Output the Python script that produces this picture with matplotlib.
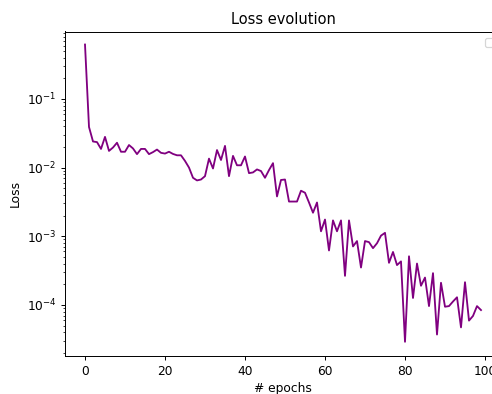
import numpy as np
import matplotlib
matplotlib.use('Agg')
import matplotlib.pyplot as plt

# loss per epoch
epochs = np.arange(100)
loss = [
    0.62, 0.039, 0.024, 0.0235, 0.0187, 0.028, 0.0175, 0.0196, 0.023, 0.017,
    0.017, 0.0213, 0.019, 0.0157, 0.0187, 0.0187, 0.0157, 0.0168, 0.0183, 0.0164,
    0.016, 0.017, 0.0158, 0.0151, 0.0151, 0.0125, 0.010, 0.0071, 0.0065, 0.0067,
    0.0075, 0.0135, 0.0097, 0.018, 0.0129, 0.0207, 0.0075, 0.0148, 0.0108, 0.0108,
    0.0145, 0.0083, 0.0085, 0.0094, 0.0089, 0.0071, 0.0092, 0.0116, 0.0038, 0.0066,
    0.0067, 0.0032, 0.0032, 0.0032, 0.0046, 0.0043, 0.0031, 0.0022, 0.0031, 0.00118,
    0.00175, 0.00062, 0.0017, 0.00118, 0.0017, 0.000265, 0.0017, 0.00071, 0.00085, 0.00035,
    0.00085, 0.00082, 0.00067, 0.00079, 0.00102, 0.00112, 0.00041, 0.00059, 0.00038, 0.00043,
    2.9e-5, 0.00051, 0.000126, 0.0004, 0.00019, 0.00025, 9.6e-5, 0.00029, 3.7e-5, 0.00021,
    9.4e-5, 9.6e-5, 0.000112, 0.000129, 4.7e-5, 0.000214, 5.9e-5, 6.9e-5, 9.6e-5, 8.4e-5,
]

dpi = 88
fig = plt.figure(figsize=(492 / dpi, 394 / dpi), dpi=dpi)
# axes run past the right edge, like the cropped original
ax = fig.add_axes([65.2 / 492, 38 / 394, 435.6 / 492, 324.5 / 394])

ax.plot(epochs, loss, color='purple')
ax.set_yscale('log')
ax.set_ylim(1.8e-5, 0.96)
ax.set_title('Loss evolution')
ax.set_xlabel('# epochs')
ax.set_ylabel('Loss')
ax.legend(loc='upper right')

fig.savefig('out.png', dpi=dpi)
